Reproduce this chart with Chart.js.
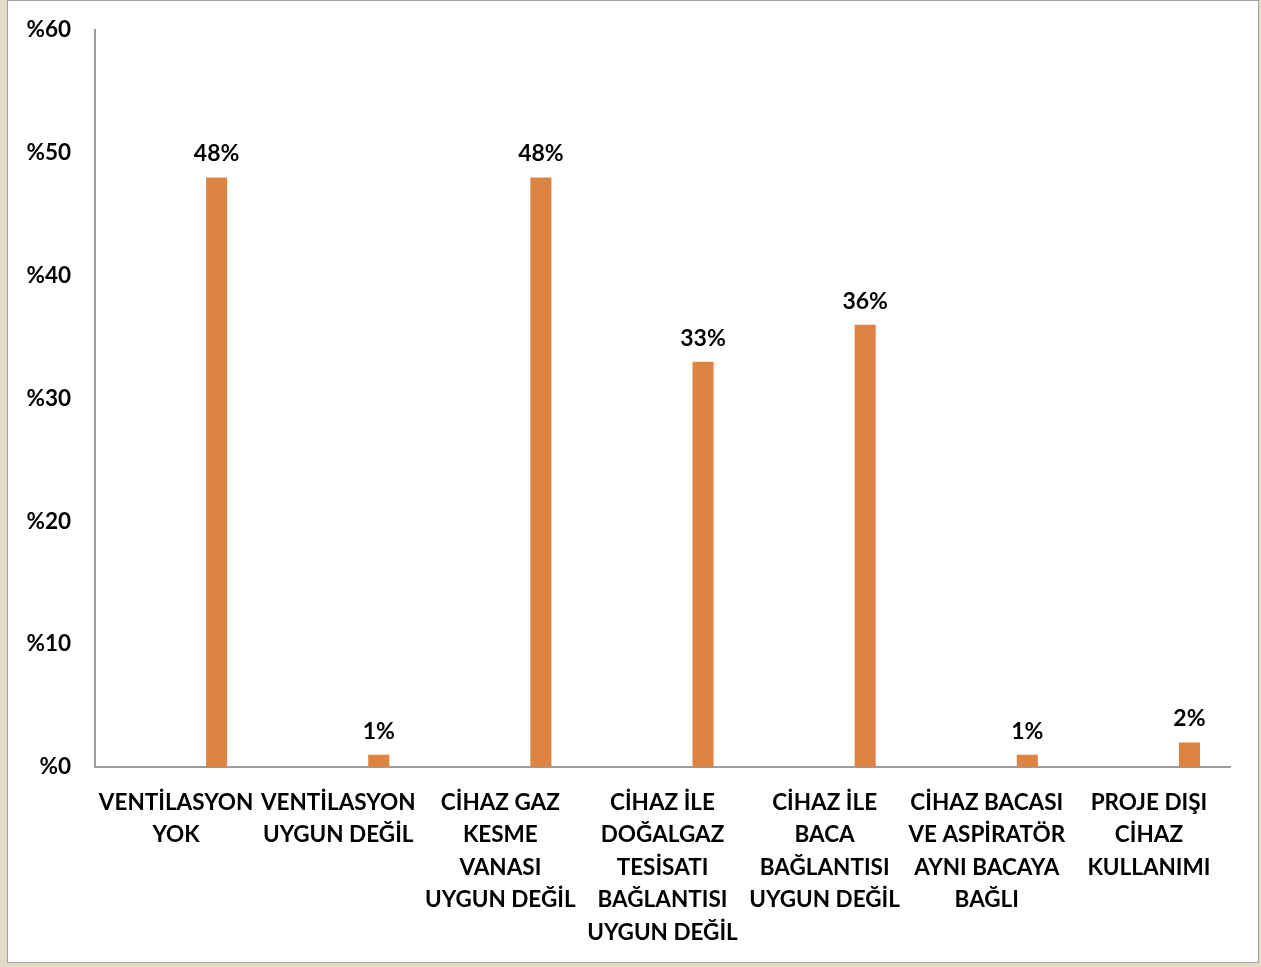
<!DOCTYPE html>
<html>
<head>
<meta charset="utf-8">
<script src="https://cdn.jsdelivr.net/npm/chart.js@4/dist/chart.umd.min.js"></script>
<style>
  html, body { margin: 0; padding: 0; background: #e2dcc6; }
  #panel {
    position: absolute; left: 7px; top: 0px; width: 1250px; height: 961px;
    background: #fff; border: 1px solid #a3a3a3;
  }
  #wrap { position: absolute; left: 0; top: 1px; width: 1250px; height: 960px; }
</style>
</head>
<body>
<div id="panel"><div id="wrap"><canvas id="chart"></canvas></div></div>
<script>
// categories (multi-line labels as in the original)
const categories = [
    ['VENTİLASYON', 'YOK'],
    ['VENTİLASYON', 'UYGUN DEĞİL'],
    ['CİHAZ GAZ', 'KESME', 'VANASI', 'UYGUN DEĞİL'],
    ['CİHAZ İLE', 'DOĞALGAZ', 'TESİSATI', 'BAĞLANTISI', 'UYGUN DEĞİL'],
    ['CİHAZ İLE', 'BACA', 'BAĞLANTISI', 'UYGUN DEĞİL'],
    ['CİHAZ BACASI', 'VE ASPİRATÖR', 'AYNI BACAYA', 'BAĞLI'],
    ['PROJE DIŞI', 'CİHAZ', 'KULLANIMI']
];
const emptySeries = [null, null, null, null, null, null, null];
const values = [48, 1, 48, 33, 36, 1, 2];
const yTicks = [0, 10, 20, 30, 40, 50, 60];

const fontFamily = "Lato, 'Open Sans', sans-serif";

// labels on top of bars
const valueLabels = {
    id: 'valueLabels',
    afterDatasetsDraw(chart) {
        const ctx = chart.ctx;
        const meta = chart.getDatasetMeta(1);
        ctx.save();
        ctx.font = 'bold 23px ' + fontFamily;
        ctx.fillStyle = '#000';
        ctx.textAlign = 'center';
        ctx.textBaseline = 'bottom';
        meta.data.forEach((bar, i) => {
            ctx.fillText(values[i] + '%', bar.x, bar.y - 12);
        });
        ctx.restore();
    }
};

function noOverflow(scale) {
    scale.paddingTop = 0;
    scale.paddingBottom = 0;
    scale.paddingLeft = 0;
    scale.paddingRight = 0;
}

new Chart(document.getElementById('chart'), {
    type: 'bar',
    data: {
        labels: categories,
        datasets: [{
            data: emptySeries,
            backgroundColor: '#dd8442'
        }, {
            data: values,
            backgroundColor: '#dd8442'
        }]
    },
    options: {
        responsive: true,
        maintainAspectRatio: false,
        animation: false,
        datasets: {
            bar: { categoryPercentage: 1.0, barPercentage: 0.26 }
        },
        layout: { padding: { top: 28, right: 28, left: 0, bottom: 0 } },
        plugins: {
            legend: { display: false },
            tooltip: { enabled: false }
        },
        scales: {
            x: {
                grid: { display: false, drawTicks: false },
                border: { color: '#9c9c9c', width: 2 },
                ticks: {
                    color: '#000',
                    maxRotation: 0,
                    autoSkip: false,
                    padding: 19,
                    font: { family: fontFamily, size: 22.5, weight: 'bold', lineHeight: 1.45 }
                },
                afterFit(scale) { scale.height = 195; noOverflow(scale); }
            },
            y: {
                min: 0,
                max: 60,
                grid: { display: false, drawTicks: false },
                border: { color: '#9c9c9c', width: 2 },
                afterBuildTicks(scale) { scale.ticks = yTicks.map(v => ({ value: v })); },
                ticks: {
                    color: '#000',
                    padding: 24,
                    callback: v => '%' + v,
                    font: { family: fontFamily, size: 22.5, weight: 'bold' }
                },
                afterFit(scale) { scale.width = 87; noOverflow(scale); }
            }
        }
    },
    plugins: [valueLabels]
});
</script>
</body>
</html>
